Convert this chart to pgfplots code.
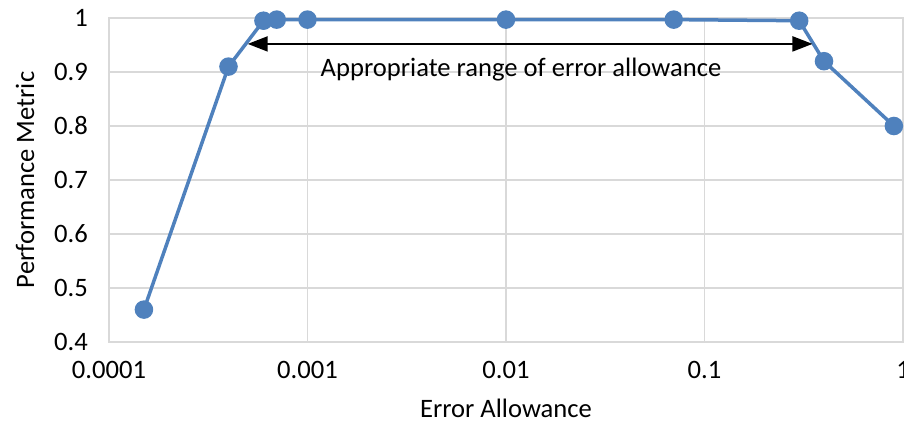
\documentclass[border=0pt]{standalone}
\usepackage{pgfplots}
\pgfplotsset{compat=1.18}
\usepackage{fontspec}
\setmainfont{Carlito}
\usetikzlibrary{calc,arrows.meta}
\definecolor{xlblue}{RGB}{79,129,189}
\definecolor{gridgray}{RGB}{217,217,217}
\begin{document}
\fontsize{26.6bp}{32bp}\selectfont
\begin{tikzpicture}
\begin{axis}[
  name=a,
  scale only axis,
  width=794bp, height=324bp,
  xmode=log,
  xmin=0.0001, xmax=1,
  ymin=0.4, ymax=1,
  ytick={0.4,0.5,0.6,0.7,0.8,0.9,1},
  yticklabels={0.4,0.5,0.6,0.7,0.8,0.9,1},
  xtick={0.0001,0.001,0.01,0.1,1},
  xticklabels={0.0001,0.001,0.01,0.1,1},
  major tick length=0pt,
  minor tick length=0pt,
  grid=major,
  major grid style={gridgray, line width=1.5bp},
  axis line style={gridgray, line width=1.5bp},
  tick label style={font=\fontsize{26.6bp}{32bp}\selectfont},
  label style={font=\fontsize{26.6bp}{32bp}\selectfont},
  yticklabel style={xshift=-12bp},
  xticklabel style={yshift=-10bp},
  xlabel={Error Allowance},
  ylabel={Performance Metric},
  xlabel style={yshift=-3bp},
  ylabel style={yshift=2bp},
  clip=false,
]
\addplot[color=xlblue, line width=3.5bp, mark=*, mark size=7.5bp, mark options={fill=xlblue, draw=xlblue}]
coordinates {
(0.00015,0.46)
(0.0004,0.91)
(0.0006,0.995)
(0.0007,0.997)
(0.001,0.997)
(0.01,0.997)
(0.07,0.997)
(0.3,0.995)
(0.4,0.92)
(0.9,0.80)
};
\draw[{Triangle[length=20bp,width=15bp]}-{Triangle[length=20bp,width=15bp]}, line width=2bp, black]
  (axis cs:0.0005,0.952) -- (axis cs:0.35,0.952);
\node[font=\fontsize{26.6bp}{32bp}\selectfont] at (axis cs:0.0119,0.905) {Appropriate range of error allowance};
\end{axis}
\pgfresetboundingbox
\path[use as bounding box] ($(a.south west)+(-109bp,-83bp)$) rectangle ($(a.north east)+(1bp,18bp)$);
\end{tikzpicture}
\end{document}
